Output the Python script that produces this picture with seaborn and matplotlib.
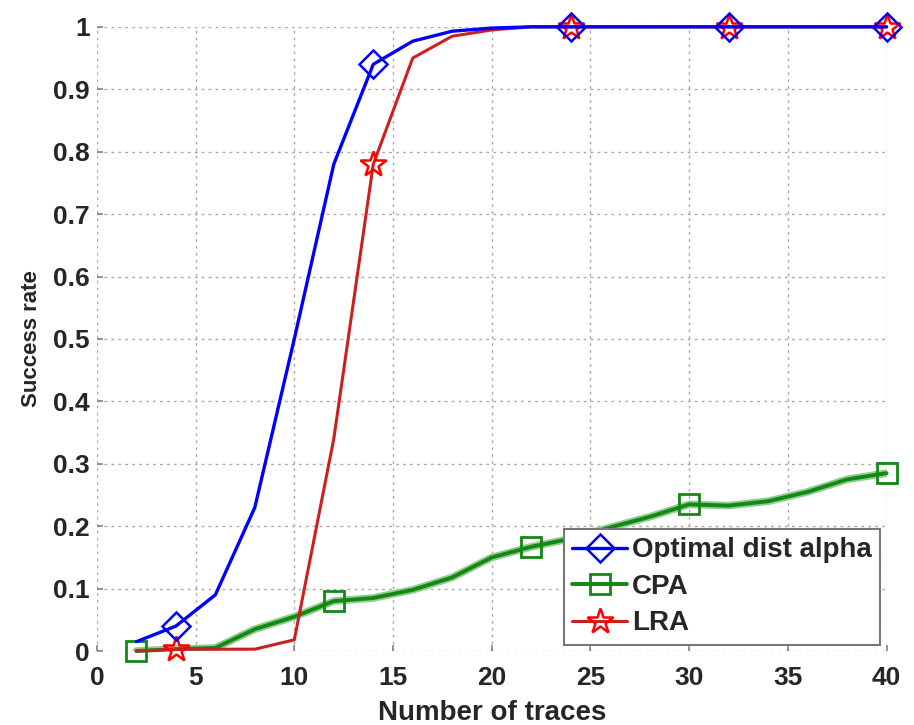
import matplotlib
matplotlib.use("Agg")
import matplotlib.pyplot as plt
import seaborn as sns
import pandas as pd

x_traces = [2, 4, 6, 8, 10, 12, 14, 16, 18, 20, 22, 24, 26, 28, 30, 32, 34, 36, 38, 40]
optimal = [0.015, 0.04, 0.09, 0.23, 0.50, 0.78, 0.94, 0.977, 0.993, 0.998, 1.0, 1.0, 1.0, 1.0, 1.0, 1.0, 1.0, 1.0, 1.0, 1.0]
cpa = [0.0, 0.003, 0.005, 0.035, 0.055, 0.08, 0.085, 0.098, 0.118, 0.15, 0.167, 0.18, 0.198, 0.215, 0.235, 0.233, 0.24, 0.255, 0.275, 0.285]
lra = [0.0, 0.003, 0.003, 0.003, 0.018, 0.34, 0.78, 0.95, 0.985, 0.995, 1.0, 1.0, 1.0, 1.0, 1.0, 1.0, 1.0, 1.0, 1.0, 1.0]
series_names = ["Optimal dist alpha", "CPA", "LRA"]
x_ticks = [0, 5, 10, 15, 20, 25, 30, 35, 40]
y_ticks = [0, 0.1, 0.2, 0.3, 0.4, 0.5, 0.6, 0.7, 0.8, 0.9, 1]
y_tick_labels = ["0", "0.1", "0.2", "0.3", "0.4", "0.5", "0.6", "0.7", "0.8", "0.9", "1"]

sns.set_theme(style="white")
plt.rcParams["font.family"] = ["Liberation Sans", "DejaVu Sans"]
plt.rcParams["font.weight"] = "bold"

fig = plt.figure(figsize=(9.14, 7.25), dpi=100)
ax = fig.add_axes([0.106, 0.102, 0.864, 0.861])

df_opt = pd.DataFrame({"x": x_traces, "y": optimal})
df_cpa = pd.DataFrame({"x": x_traces, "y": cpa})
df_lra = pd.DataFrame({"x": x_traces, "y": lra})

# soft halo under the CPA line
sns.lineplot(data=df_cpa, x="x", y="y", ax=ax, color="#93cc93", linewidth=5.5,
             zorder=2.5, legend=False)
sns.lineplot(data=df_cpa, x="x", y="y", ax=ax, color="#138813", linewidth=2.8,
             marker="s", markersize=14.5, markerfacecolor="none", markeredgecolor="#138813",
             markeredgewidth=2.0, markevery=[0, 5, 10, 14, 19], label=series_names[1], zorder=3,
             clip_on=False)
sns.lineplot(data=df_lra, x="x", y="y", ax=ax, color="#cc2020", linewidth=2.2,
             marker="*", markersize=19, markerfacecolor="none", markeredgecolor="#ff0000",
             markeredgewidth=1.8, markevery=[1, 6, 11, 15, 19], label=series_names[2], zorder=4,
             clip_on=False)
sns.lineplot(data=df_opt, x="x", y="y", ax=ax, color="#0000ff", linewidth=2.4,
             marker="D", markersize=14, markerfacecolor="none", markeredgecolor="#0000ff",
             markeredgewidth=1.8, markevery=[1, 6, 11, 15, 19], label=series_names[0], zorder=5,
             clip_on=False)

ax.set_xlim(0, 40)
ax.set_ylim(0, 1)
ax.set_xticks(x_ticks)
ax.set_yticks(y_ticks)
ax.set_yticklabels(y_tick_labels)
for s in ax.spines.values():
    s.set_visible(False)
ax.grid(True, linestyle=(0, (2, 3)), color="#aaaaaa", linewidth=1.0)
ax.tick_params(axis="both", labelsize=19, direction="in", length=4, color="#888888",
               left=True, bottom=True)
ax.tick_params(axis="x", pad=11)
ax.tick_params(axis="y", pad=5)
for lbl in ax.get_xticklabels() + ax.get_yticklabels():
    lbl.set_fontweight("bold")
ax.set_xlabel("Number of traces", fontsize=20, fontweight="bold", labelpad=7)
ax.set_ylabel("Success rate", fontsize=16, fontweight="bold", labelpad=8)

handles, labels = ax.get_legend_handles_labels()
order = [labels.index(n) for n in series_names]
leg = ax.legend([handles[i] for i in order], [labels[i] for i in order],
                loc="lower right", bbox_to_anchor=(0.992, 0.01), borderaxespad=0,
                fancybox=False, framealpha=1, edgecolor="#777777", handlelength=1.95,
                prop={"weight": "bold", "size": 20}, labelspacing=0.38, borderpad=0.3,
                handletextpad=0.2)
leg.get_frame().set_linewidth(1.5)
leg.set_zorder(10)

fig.savefig("out.png", dpi=100)
